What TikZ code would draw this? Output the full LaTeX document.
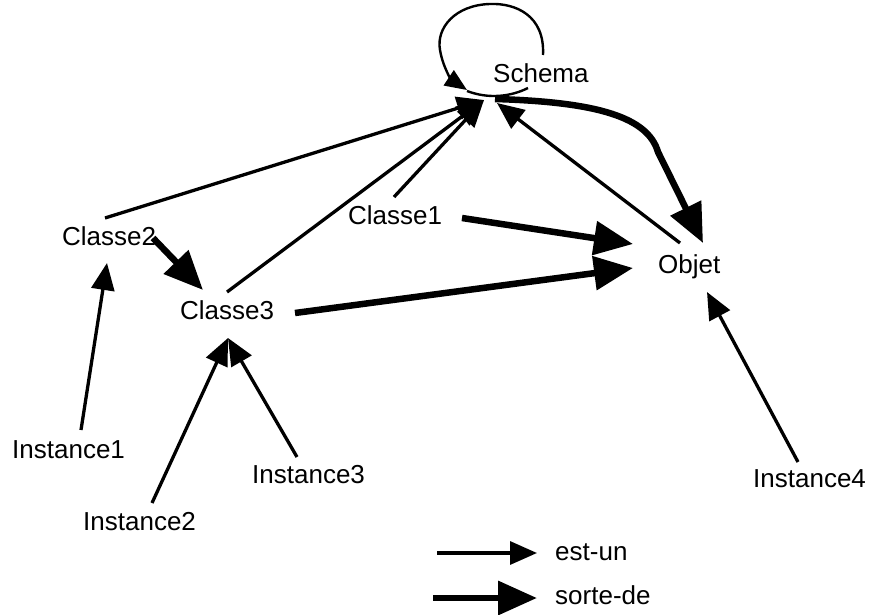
\documentclass[tikz,border=0pt]{standalone}
\usepackage{fontspec}
\setmainfont{Liberation Sans}
\usetikzlibrary{arrows.meta,calc}
\begin{document}
\begin{tikzpicture}[x=1pt,y=-1pt,
  lbl/.style={anchor=base west,inner sep=0pt,font=\fontsize{26}{30}\selectfont},
  isa/.style={line width=3.3pt,-{Triangle[length=27pt,width=23pt]}},
  sorte/.style={line width=6.5pt,-{Triangle[length=39pt,width=33pt]}},
  loopline/.style={line width=2.4pt}]
\useasboundingbox (0,0) rectangle (875,615);

% concepts
\node[lbl] (sch) at (493,83)  {Schema};
\node[lbl] (c1)  at (348,224) {Classe1};
\node[lbl] (c2)  at (62,245)  {Classe2};
\node[lbl] (c3)  at (180,319) {Classe3};
\node[lbl] (obj) at (658,273) {Objet};
\node[lbl] (i1)  at (12,458)  {Instance1};
\node[lbl] (i2)  at (83,530)  {Instance2};
\node[lbl] (i3)  at (252,483) {Instance3};
\node[lbl] (i4)  at (753,487) {Instance4};

% points where the arrows meet the concepts
\coordinate (hub)  at ($(sch.base west)+(-9,17)$);
\coordinate (hubo) at ($(sch.base west)+(4,20)$);

% Schema is a Schema
\draw[loopline,-{Triangle[length=22pt,width=18pt]}]
  ($(sch.base west)+(50,-28)$) .. controls (545,15) and (515,3) .. (490,4)
  .. controls (455,5) and (436,28) .. (440,50)
  .. controls (443,68) and (452,80) .. (467,90);
\draw[loopline] (467,91) .. controls (488,99) and (510,97) .. ($(sch.base west)+(35,5)$);

% est-un
\draw[isa] ($(c2.base west)+(43,-27)$) -- (hub);
\draw[isa] ($(c1.base west)+(46,-27)$) -- (hub);
\draw[isa] ($(c3.base west)+(47,-27)$) -- (hub);
\draw[isa] ($(obj.base west)+(22,-30)$) -- (hubo);
\draw[isa] ($(i1.base west)+(69,-28)$) -- ($(c2.base west)+(45,18)$);
\draw[isa] ($(i2.base west)+(69,-27)$) -- ($(c3.base west)+(48,19)$);
\draw[isa] ($(i3.base west)+(45,-26)$) -- ($(c3.base west)+(48,19)$);
\draw[isa] ($(i4.base west)+(45,-25)$) -- ($(obj.base west)+(49,19)$);

% sorte-de
\draw[sorte] ($(c1.base west)+(114,-6)$) -- ($(obj.base west)+(-25,-29)$);
\draw[sorte] ($(c3.base west)+(115,-6)$) -- ($(obj.base west)+(-25,-5)$);
\draw[sorte] ($(c2.base west)+(91,-7)$) -- ($(c3.base west)+(23,-29)$);
\draw[sorte] ($(sch.base west)+(2,16)$) .. controls (600,102) and (648,118) .. (658,152)
  -- ($(obj.base west)+(45,-30)$);

% legend
\node[lbl] (eu) at (555,560) {est-un};
\node[lbl] (sd) at (555,604) {sorte-de};
\coordinate (eua) at (437,553);
\coordinate (sda) at (433,598);
\draw[isa] (eua) -- ($(eu.base west)+(-18,-7)$);
\draw[sorte] (sda) -- ($(sd.base west)+(-18,-6)$);
\end{tikzpicture}
\end{document}
